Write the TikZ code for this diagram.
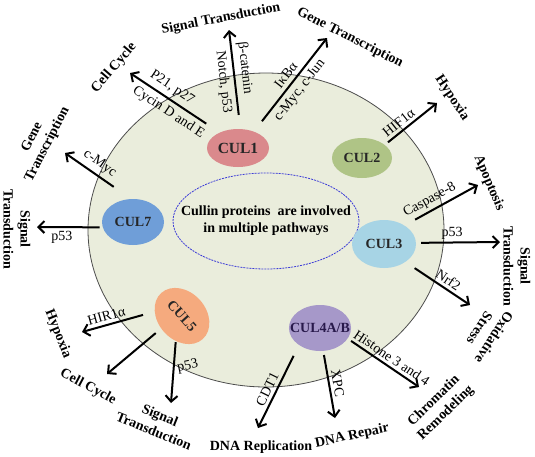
\documentclass[tikz,border=0pt]{standalone}
\usepackage{fontspec}
\setmainfont{Liberation Serif}
\usetikzlibrary{shapes.geometric,arrows.meta}
\definecolor{cellbg}{RGB}{234,237,220}
\definecolor{culone}{RGB}{218,137,140}
\definecolor{cultwo}{RGB}{175,196,134}
\definecolor{culthree}{RGB}{167,212,229}
\definecolor{culfour}{RGB}{166,152,201}
\definecolor{culfive}{RGB}{245,170,126}
\definecolor{culseven}{RGB}{111,158,216}
\definecolor{ringblue}{RGB}{60,60,215}
\definecolor{culfourtext}{RGB}{40,25,75}
\tikzset{
  cul/.style={ellipse,fill=#1,inner sep=-8pt,minimum width=62pt,minimum height=46pt,
    font=\fontsize{14}{16}\selectfont\bfseries,text=black!85},
  pathway/.style={font=\fontsize{14}{17}\selectfont\bfseries,align=center,inner sep=1pt},
  lbl/.style={font=\fontsize{14}{16}\selectfont,inner sep=1pt},
  arr/.style={-{Straight Barb[length=6pt,width=12pt]},line width=2pt}
}

\begin{document}
\begin{tikzpicture}[x=1pt,y=-1pt]
    \useasboundingbox (0,0) rectangle (535,456);

    % cell and the centre text
    \node [ellipse,draw=black!70,line width=0.8pt,fill=cellbg,minimum width=356pt,minimum height=314pt] (cell) at (266,230) {};
    \node [ellipse,draw=ringblue,dash pattern=on 2pt off 1pt,line width=0.8pt,inner xsep=-20pt,inner ysep=0pt,
      minimum width=186pt,minimum height=96pt,font=\fontsize{14}{17}\selectfont\bfseries,align=center] (main) at (266,221)
      {Cullin proteins~ are involved\\in multiple pathways};

    % cullins
    \node [cul=culone,minimum height=38pt,font=\fontsize{15.5}{17}\selectfont\bfseries] (cul1) at (238,148) {CUL1};
    \node [cul=cultwo,minimum width=60pt,minimum height=40pt] (cul2) at (362,158) {CUL2};
    \node [cul=culthree,minimum width=64pt,minimum height=48pt] (cul3) at (384,244) {CUL3};
    \node [cul=culfour,text=culfourtext] (cul4) at (320,328) {CUL4A/B};
    \node [cul=culfive,minimum height=48pt,rotate=-48] (cul5) at (182,316) {CUL5};
    \node [cul=culseven] (cul7) at (133,222) {CUL7};

    % arrow tips
    \coordinate (t-cc1) at (130,73);
    \coordinate (t-st1) at (229,30);
    \coordinate (t-gt1) at (327,38);
    \coordinate (t-hy1) at (437,103);
    \coordinate (t-ap) at (478,185);
    \coordinate (t-st2) at (500,242);
    \coordinate (t-os) at (470,305);
    \coordinate (t-cr) at (419,387);
    \coordinate (t-dr) at (335,418);
    \coordinate (t-dp) at (258,428);
    \coordinate (t-hy2) at (82,332);
    \coordinate (t-cc2) at (107,374);
    \coordinate (t-st3) at (171,403);
    \coordinate (t-gt2) at (65,153);
    \coordinate (t-st4) at (37,227);

    % pathways
    \node [pathway,rotate=49] (cc1) at (114,68) {Cell Cycle};
    \node [pathway,rotate=11] (st1) at (221,19) {Signal Transduction};
    \node [pathway,rotate=-27] (gt1) at (350,38) {Gene Transcription};
    \node [pathway,rotate=-56] (hy1) at (452,98) {Hypoxia};
    \node [pathway,rotate=-67] (ap) at (489,183) {Apoptosis};
    \node [pathway,rotate=-90] (st2) at (517,266) {Signal\\Transduction};
    \node [pathway,rotate=-123] (os) at (487,333) {Oxidative\\Stress};
    \node [pathway,rotate=44] (cr) at (440,407) {Chromatin\\Remodeling};
    \node [pathway,rotate=12] (dr) at (352,436) {DNA Repair};
    \node [pathway] (dp) at (261,447) {DNA Replication};
    \node [pathway,rotate=-22] (st3) at (157,423) {Signal\\Transduction};
    \node [pathway,rotate=-28] (cc2) at (88,387) {Cell Cycle};
    \node [pathway,rotate=-68] (hy2) at (58,334) {Hypoxia};
    \node [pathway,rotate=-90] (st4) at (17,229) {Signal\\Transduction};
    \node [pathway,rotate=63] (gt2) at (40,141) {Gene\\Transcription};

    % CUL1
    \draw [arr,shorten <=16pt] (cul1.140) -- node [lbl,sloped,above=3pt,pos=.6] (l-p21) {P21, p27}
      node [lbl,sloped,below=3pt,pos=.5] (l-cyc) {Cycin D and E} (t-cc1);
    \draw [arr,shorten <=14pt] (cul1.83) -- node [lbl,sloped,below=3pt,pos=.49] (l-notch) {Notch, p53}
      node [lbl,sloped,above=3pt,pos=.6] (l-bcat) {β-catenin} (t-st1);
    \draw [arr,shorten <=13pt] (cul1.46) -- node [lbl,sloped,above=3pt,pos=.54] (l-ikb) {IκBα}
      node [lbl,sloped,below=3pt,pos=.51] (l-myc1) {c-Myc, c-Jun} (t-gt1);
    % CUL2
    \draw [arr,shorten <=4pt] (cul2.30) -- node [lbl,sloped,above=2pt,pos=.37] (l-hif) {HIF1α} (t-hy1);
    % CUL3
    \draw [arr,shorten <=12pt] (cul3.42) -- node [lbl,sloped,above=2pt,pos=.41] (l-casp) {Caspase-8} (t-ap);
    \draw [arr,shorten <=5pt] (cul3.2) -- node [lbl,above=1pt,pos=.43] (l-p53a) {p53} (t-st2);
    \draw [arr,shorten <=11pt] (cul3.-40) -- node [lbl,sloped,above=2pt,pos=.59] (l-nrf) {Nrf2} (t-os);
    % CUL4A/B
    \draw [arr,shorten <=4pt] (cul4.-21) -- node [lbl,sloped,above=2pt,pos=.55] (l-hist) {Histone 3 and 4} (t-cr);
    \draw [arr,shorten <=4pt] (cul4.-82) -- node [lbl,sloped,above=2pt,pos=.5] (l-xpc) {XPC} (t-dr);
    \draw [arr,shorten <=12pt] (cul4.-141) -- node [lbl,sloped,above=2pt,pos=.58] (l-cdt) {CDT1} (t-dp);
    % CUL5
    \draw [arr,shorten <=12pt] (cul5.219) -- node [lbl,sloped,above=2pt,pos=.63] (l-hir) {HIR1α} (t-hy2);
    \draw [arr,shorten <=7pt] (cul5.259) -- (t-cc2);
    \draw [arr,shorten <=1pt] (cul5.304) -- node [lbl,right=2pt,rotate=12,pos=.45] (l-p53b) {p53} (t-st3);
    % CUL7
    \draw [arr,shorten <=21pt] (cul7.95) -- node [lbl,sloped,above=3pt,pos=.57] (l-myc2) {c-Myc} (t-gt2);
    \draw [arr,shorten <=3pt] (cul7.190) -- node [lbl,below=2pt,pos=.62] (l-p53c) {p53} (t-st4);
\end{tikzpicture}
\end{document}
